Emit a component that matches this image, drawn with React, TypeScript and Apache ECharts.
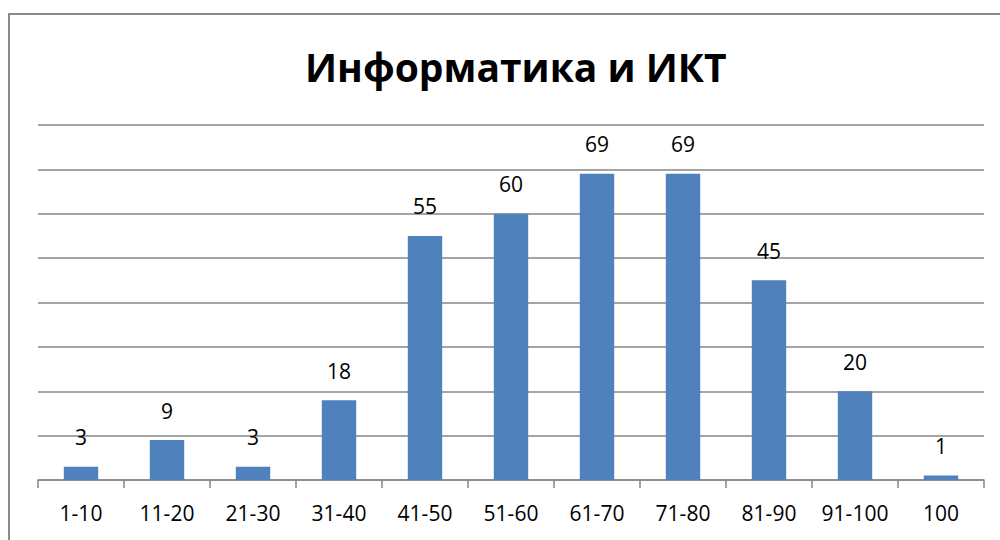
import React, { useEffect, useRef } from "react";
import * as echarts from "echarts";

const categories = ["1-10", "11-20", "21-30", "31-40", "41-50", "51-60", "61-70", "71-80", "81-90", "91-100", "100"];
const values = [3, 9, 3, 18, 55, 60, 69, 69, 45, 20, 1];
const titleText = "Информатика и ИКТ";

export default function App() {
  const ref = useRef<HTMLDivElement>(null);
  useEffect(() => {
    const chart = echarts.init(ref.current!, null, { renderer: "svg" });
    const font = "Open Sans, Noto Sans, sans-serif";
    chart.setOption({
      animation: false,
      backgroundColor: "#ffffff",
      title: {
        text: titleText,
        left: 300,
        top: 42,
        textStyle: { fontFamily: font, fontSize: 39, fontWeight: "bold", color: "#000" },
      },
      graphic: [
        {
          type: "rect",
          shape: { x: 9, y: 14, width: 1000, height: 540 },
          style: { fill: "none", stroke: "#8c8c8c", lineWidth: 2 },
          silent: true,
        },
      ],
      grid: { left: 38, right: 16, top: 125, bottom: 60, containLabel: false },
      xAxis: {
        type: "category",
        data: categories,
        axisLine: { lineStyle: { color: "#868686", width: 1.5 } },
        axisTick: { show: true, length: 8, lineStyle: { color: "#868686", width: 1.5 } },
        axisLabel: { interval: 0, fontFamily: font, fontSize: 21, color: "#000", margin: 22 },
      },
      yAxis: {
        type: "value",
        min: 0,
        max: 80,
        interval: 10,
        axisLabel: { show: false },
        axisLine: { show: false },
        axisTick: { show: false },
        splitLine: { lineStyle: { color: "#868686", width: 1.5 } },
      },
      series: [
        {
          type: "bar",
          data: values,
          barWidth: "40%",
          itemStyle: { color: "#4f81bd" },
          label: {
            show: true,
            position: "top",
            distance: 19,
            fontFamily: font,
            fontSize: 21,
            color: "#000",
          },
        },
      ],
    });
    return () => chart.dispose();
  }, []);
  return (
    <div
      ref={ref}
      style={{ position: "absolute", left: 0, top: 0, width: 1000, height: 540 }}
    />
  );
}
